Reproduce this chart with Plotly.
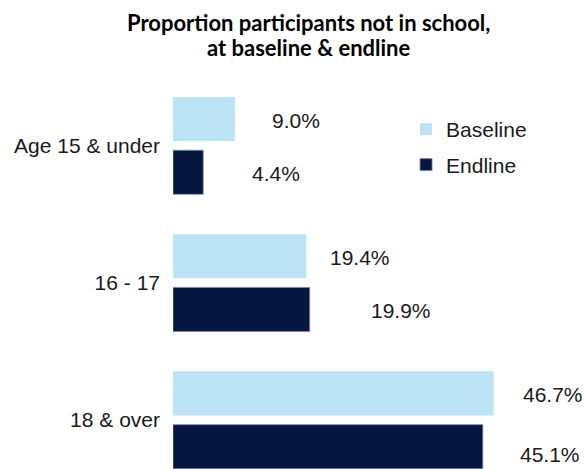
import plotly.graph_objects as go

categories = ["Age 15 & under", "16 - 17", "18 & over"]
baseline = [9.0, 19.4, 46.7]
endline = [4.4, 19.9, 45.1]
title_lines = ["Proportion participants not in school,", "at baseline &amp; endline"]

# label placement styles (pixel offsets from bar end / group centre)
base_label_dx = [35, 22, 27]
end_label_dx = [47, 59, 35]
base_label_dy = [25, 25, 26]
end_label_dy = [-28, -28, -34]

LIGHT = "#bce4f6"
DARK = "#061641"
TXT = "#1a1a1a"
FONT = "Liberation Sans, Arial, sans-serif"

fig = go.Figure()
fig.add_trace(go.Bar(
    y=categories, x=baseline, orientation="h", name="Baseline",
    marker=dict(color=LIGHT, line=dict(width=0)), legendgroup="b",
))
fig.add_trace(go.Bar(
    y=categories, x=endline, orientation="h", name="Endline",
    marker=dict(color=DARK, line=dict(width=0.8, color="#7d88a6")), legendgroup="e",
))

ann = []
for c, v, dx, dy in zip(categories, baseline, base_label_dx, base_label_dy):
    ann.append(dict(x=v, y=c, xref="x", yref="y", text=f"{v:.1f}%", showarrow=False,
                    xanchor="left", yanchor="middle", xshift=dx, yshift=dy,
                    font=dict(family=FONT, size=21, color=TXT)))
for c, v, dx, dy in zip(categories, endline, end_label_dx, end_label_dy):
    ann.append(dict(x=v, y=c, xref="x", yref="y", text=f"{v:.1f}%", showarrow=False,
                    xanchor="left", yanchor="middle", xshift=dx, yshift=dy,
                    font=dict(family=FONT, size=21, color=TXT)))

for line, ty in zip(title_lines, [1.139, 1.0745]):
    ann.append(dict(x=0.3297, y=ty, xref="paper", yref="paper", text=line, showarrow=False,
                    xanchor="center", yanchor="middle",
                    font=dict(family="Lato", size=22, color="#000000", weight="bold")))

fig.update_layout(
    width=584, height=469,
    margin=dict(l=173, r=0, t=77, b=0, pad=0),
    paper_bgcolor="white", plot_bgcolor="white",
    barmode="group", bargap=0.223, bargroupgap=0.174,
    xaxis=dict(range=[0, 59.83], visible=False, fixedrange=True),
    yaxis=dict(range=[2.357, -0.5], showgrid=False, zeroline=False, showline=False,
               ticks="", ticklabelstandoff=12,
               tickfont=dict(family=FONT, size=21, color=TXT)),
    legend=dict(x=0.567, xanchor="left", y=0.918, yanchor="top",
                traceorder="grouped", tracegroupgap=5,
                font=dict(family=FONT, size=21, color=TXT),
                bgcolor="rgba(0,0,0,0)"),
    annotations=ann,
    showlegend=True,
)

fig.write_html("out.html")
